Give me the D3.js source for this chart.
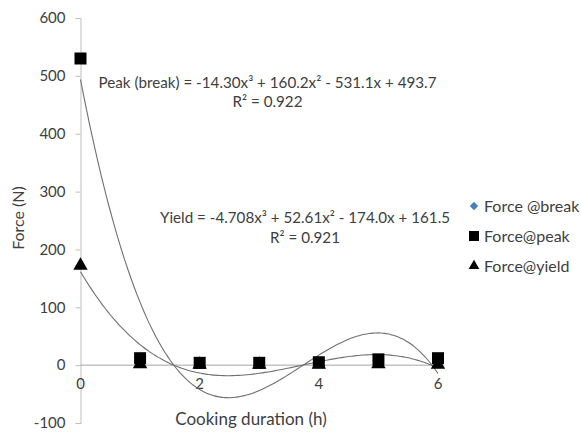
<!DOCTYPE html>
<head>
  <meta charset="utf-8">
  <script src="https://cdn.jsdelivr.net/npm/d3@7"></script>
  <style>
    body { margin:0; background:#fff; }
    text { font-family: Lato, "Open Sans", sans-serif; fill:#404040; }
  </style>
</head>
<body>
  <script>
    // data
    let hours = [0, 1, 2, 3, 4, 5, 6];
    let forceBreak = [530, 12, 4, 4, 5, 10, 12];
    let forcePeak  = [530, 12, 4, 4, 5, 10, 12];
    let forceYield = [172, 2, 1, 1, 1, 2, 1];
    let yTicks = [-100, 0, 100, 200, 300, 400, 500, 600];
    let xTicks = [0, 2, 4, 6];
    // trendline coefficients shown on the chart (x^3, x^2, x, 1)
    let peakFit  = [-14.30, 160.2, -531.1, 493.7];
    let yieldFit = [-4.708, 52.61, -174.0, 161.5];
    let seriesNames = ["Force @break", "Force@peak", "Force@yield"];

    let width = 581, height = 433;

    let svg = d3.select("body").append("svg")
      .attr("width", width)
      .attr("height", height);

    let x = d3.scaleLinear().domain([0, 6]).range([80.5, 438]);
    let y = d3.scaleLinear().domain([-100, 600]).range([423, 18]);

    // y axis
    let yAxis = svg.append("g")
      .attr("transform", "translate(" + x(0) + ",0)")
      .call(d3.axisLeft(y).tickValues(yTicks).tickFormat(d => String(d)).tickSize(5).tickPadding(10));
    yAxis.select(".domain").attr("stroke", "#bfbfbf");
    yAxis.selectAll(".tick line").attr("stroke", "#bfbfbf");
    yAxis.selectAll(".tick text").style("font-size", "15px").attr("fill", "#404040");

    // zero line
    svg.append("line")
      .attr("x1", x(0)).attr("x2", x(6))
      .attr("y1", y(0)).attr("y2", y(0))
      .attr("stroke", "#a6a6a6");

    // x tick labels sit below the zero line
    svg.selectAll(".xlab")
      .data(xTicks)
      .enter().append("text")
      .attr("x", d => x(d))
      .attr("y", y(0) + 24)
      .attr("text-anchor", "middle")
      .style("font-size", "15px")
      .text(d => d);

    // trendlines
    let poly = (c, t) => c[0] * t * t * t + c[1] * t * t + c[2] * t + c[3];
    let samples = d3.range(0, 6.001, 0.05);
    let line = d3.line().x(d => x(d)).curve(d3.curveMonotoneX);
    [peakFit, yieldFit].forEach(c => {
      svg.append("path")
        .attr("d", line.y(d => y(poly(c, d)))(samples))
        .attr("fill", "none")
        .attr("stroke", "#707070")
        .attr("stroke-width", 1.1);
    });

    // markers
    let diamond = d3.symbol().type(d3.symbolDiamond2).size(70);
    let tri = d3.symbol().type(d3.symbolTriangle).size(90);

    svg.selectAll(".brk")
      .data(hours)
      .enter().append("path")
      .attr("transform", (d, i) => "translate(" + x(d) + "," + y(forceBreak[i]) + ")")
      .attr("d", diamond)
      .attr("fill", "#4a7ebb");

    svg.selectAll(".pk")
      .data(hours)
      .enter().append("rect")
      .attr("x", d => x(d) - 6)
      .attr("y", (d, i) => y(forcePeak[i]) - 6)
      .attr("width", 12)
      .attr("height", 12)
      .attr("fill", "#000");

    svg.selectAll(".yl")
      .data(hours)
      .enter().append("path")
      .attr("transform", (d, i) => "translate(" + x(d) + "," + y(forceYield[i]) + ")")
      .attr("d", tri)
      .attr("fill", "#000");

    // equations
    let eq = [
      { t: "Peak (break) = -14.30x³ + 160.2x² - 531.1x + 493.7", cx: 267.5, cy: 88 },
      { t: "R² = 0.922", cx: 267.5, cy: 107 },
      { t: "Yield = -4.708x³ + 52.61x² - 174.0x + 161.5", cx: 305, cy: 223 },
      { t: "R² = 0.921", cx: 305, cy: 243 }
    ];
    svg.selectAll(".eq")
      .data(eq)
      .enter().append("text")
      .attr("x", d => d.cx)
      .attr("y", d => d.cy)
      .attr("text-anchor", "middle")
      .style("font-size", "15.2px")
      .text(d => d.t);

    // axis titles
    svg.append("text")
      .attr("x", 251).attr("y", 425)
      .attr("text-anchor", "middle")
      .style("font-size", "17px")
      .text("Cooking duration (h)");

    svg.append("text")
      .attr("transform", "translate(24,218) rotate(-90)")
      .attr("text-anchor", "middle")
      .style("font-size", "16px")
      .text("Force (N)");

    // legend
    let legend = svg.selectAll(".legend")
      .data(seriesNames)
      .enter().append("g")
      .attr("transform", (d, i) => "translate(474," + (206 + i * 30) + ")");

    legend.each(function (d, i) {
      let g = d3.select(this);
      if (i == 0) g.append("path").attr("d", d3.symbol().type(d3.symbolDiamond2).size(45)).attr("fill", "#4a7ebb");
      if (i == 1) g.append("rect").attr("x", -5).attr("y", -5).attr("width", 10).attr("height", 10).attr("fill", "#000");
      if (i == 2) g.append("path").attr("d", d3.symbol().type(d3.symbolTriangle).size(50)).attr("fill", "#000");
    });

    legend.append("text")
      .attr("x", 10)
      .attr("y", 5.5)
      .style("font-size", "16px")
      .text(d => d);
  </script>
</body>
